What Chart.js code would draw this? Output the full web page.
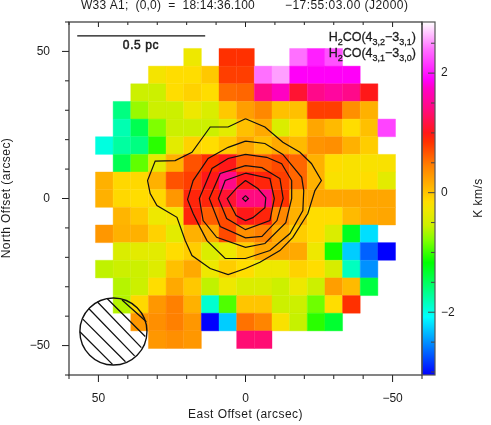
<!DOCTYPE html>
<html>
<head>
<meta charset="utf-8">
<title>W33 A1 H2CO</title>
<script src="https://cdn.jsdelivr.net/npm/chart.js@4"></script>
<style>
    html, body { margin: 0; padding: 0; background: #fff; }
    canvas { display: block; }
</style>
</head>
<body>
<canvas id="momentMap" width="491" height="425"></canvas>
<script>
// Map cell centres in arcsec (east is to the left)
var xOffsets = [48, 42, 36, 30, 24, 18, 12, 6, 0, -6, -12, -18, -24, -30, -36, -42, -48];
var yOffsets = [48, 42, 36, 30, 24, 18, 12, 6, 0, -6, -12, -18, -24, -30, -36, -42, -48];

// Integrated intensity (K km/s), one row per yOffsets entry, null = no data
var moment = [
    [null, null, null, null, null, -0.3, null, 0.85, 0.85, null, null, 2.4, 2.04, 2.26, null, null, null],
    [null, null, null, -0.25, -0.15, -0.15, -0.02, 0.78, 0.78, 2.4, 2.55, 1.88, 1.88, 1.88, 1.88, null, null],
    [null, null, -0.55, -0.55, -0.15, -0.08, -0.15, 0.55, 0.58, 1.45, 1.72, 1.1, 1.45, 1.55, 1.45, 1.0, null],
    [null, -1.63, -0.72, -0.55, -0.55, -0.3, -0.45, -0.02, 0.25, 0.4, 0.03, 0.03, 0.78, 0.78, 0.35, 0.13, null],
    [null, -1.8, -1.46, -0.8, -0.55, -0.55, -0.55, -0.38, 0.03, 0.18, -0.45, -0.15, 0.2, 0.07, -0.15, 0.03, 2.2],
    [-1.97, -1.74, -1.63, -1.05, -0.38, -0.08, -0.15, -0.02, 0.2, 0.03, 0.18, 0.07, 0.32, 0.35, 0.13, -0.05, null],
    [null, -1.46, -0.89, -0.38, 0.13, 0.68, 0.85, 1.0, 0.62, 0.62, 0.72, 0.58, 0.13, -0.15, -0.2, -0.2, -0.2],
    [0.13, -0.12, -0.12, 0.13, 0.68, 0.78, 1.0, 1.45, 1.0, 0.92, 0.78, 0.58, 0.13, -0.2, -0.2, -0.15, -0.38],
    [0.13, -0.12, -0.15, -0.12, 0.3, 0.92, 0.92, 1.1, 1.4, 1.4, 0.85, 0.18, 0.2, 0.2, 0.2, 0.2, 0.2],
    [null, 0.1, -0.02, -0.3, -0.25, 0.92, 0.62, 0.72, 1.0, 0.92, 0.4, 0.13, -0.15, -0.15, 0.07, 0.18, 0.2],
    [0.3, 0.13, 0.13, -0.08, -0.38, 0.13, 0.18, 0.72, 0.35, 0.45, 0.18, -0.05, -0.15, -0.45, -1.28, -2.2, null],
    [null, -0.45, -0.38, -0.38, -0.15, -0.05, -0.45, -0.3, -0.05, 0.2, 0.2, 0.18, -0.3, -1.12, -2.27, -2.68, -3.05],
    [-0.59, -0.55, -0.55, -0.42, 0.03, 0.18, -0.3, -0.05, -0.15, -0.3, -0.3, -0.08, -0.15, -0.47, -1.85, -2.5, null],
    [null, -0.62, -0.55, -0.15, 0.18, -0.02, -0.59, -0.3, -0.45, -0.45, -0.55, -0.3, -0.55, 0.25, 0.07, -1.4, null],
    [null, -0.62, -0.12, 0.3, 0.45, 0.13, -1.91, -0.94, 0, 0, -0.55, -0.55, -0.85, -0.15, 0.85, null, null],
    [null, null, 0.3, 0.35, 0.45, 0.3, -3.05, -2.27, 0.52, 0.42, -0.2, -0.57, -1.05, -1.34, null, null, null],
    [null, null, null, 0.3, 0.35, 0.3, null, null, 1.35, 1.35, null, null, null, null, null, null, null]
];

// Colour table of the map, [K km/s, colour]
var colorStops = [
    [-3.05, [0, 0, 255]], [-2.08, [0, 255, 255]], [-1.17, [0, 255, 0]], [-0.8, [127, 255, 0]],
    [-0.55, [204, 240, 0]], [-0.3, [238, 232, 0]], [-0.15, [255, 221, 0]], [0.03, [255, 192, 0]],
    [0.45, [255, 128, 0]], [0.85, [255, 48, 0]], [1.0, [255, 24, 24]], [1.4, [255, 10, 128]],
    [1.75, [255, 0, 200]], [1.9, [255, 0, 255]], [2.4, [255, 112, 255]], [2.855, [255, 255, 255]]
];

// Contours, outermost first, [east offset, north offset]
var contour1 = [[0, 27.1], [-6.6, 24.3], [-12.7, 19.1], [-18.5, 15.7], [-22.4, 11.9], [-25.8, 6.1], [-23.6, 2.7], [-21.2, -5.1], [-16.1, -13.2], [-11.7, -17.7], [-4.9, -21.7], [0, -23.8], [5.9, -25.9], [12, -23.8], [18.2, -19.4], [20.5, -14.3], [23.3, -6.4], [30.1, -2.4], [32.4, 1.7], [33.3, 6.1], [30.7, 12.7], [23.9, 12.9], [18.2, 15.7], [12, 24.3], [5.9, 24.3]];
var contour2 = [[0, 19.5], [-6.6, 18.7], [-12.7, 15], [-19.1, 7.2], [-19.8, 2.7], [-19.5, -4.1], [-15.1, -11.9], [-8.3, -17.7], [0, -20.4], [6.9, -20.4], [13.1, -14.3], [15.4, -9.9], [17.8, -5.1], [19.7, -0.3], [17.8, 6.1], [12.7, 13.6], [5.9, 17.4]];
var contour3 = [[0, 15], [-7.2, 14], [-12.3, 11.8], [-15.7, 6.1], [-15.7, 0], [-13.7, -8.2], [-6.6, -15.3], [0, -16.6], [9.8, -13.2], [14.4, -7.5], [15.7, 0], [11.4, 10.2], [5.9, 13.6]];
var contour4 = [[0, 11.2], [-5.6, 10.5], [-11.7, 6.8], [-12.8, 0], [-10.7, -7.5], [-5.6, -12.9], [0, -13.4], [8.6, -9.5], [12.3, 0], [8.6, 8.5]];
var contour5 = [[0, 8.6], [-8.3, 6.8], [-9.8, 0], [-8.3, -7.5], [0, -10.6], [6.4, -6.8], [9.2, 0], [6.9, 6.1]];
var contour6 = [[0, 6.1], [-4.2, 3.4], [-6.9, 0.3], [-6.6, -3.1], [-2.5, -6.5], [0, -7.5], [3.2, -5.8], [6.2, 0], [2.9, 3.7]];
var contour7 = [[0, 1], [-1, 0], [0, -1], [1, 0]];
var contours = [contour1, contour2, contour3, contour4, contour5, contour6, contour7];

// Beam and its hatching, scale bar
var beamCentre = [44.9, -45.2];
var beamRadius = 11.4;
var beamHatch = [
    [[41.97, -34.5], [33.7, -41.9]],
    [[47.05, -34.0], [34.07, -46.9]],
    [[50.4, -35.1], [35.4, -50.7]],
    [[53.3, -37.4], [37.7, -53.5]],
    [[55.3, -41.0], [40.8, -55.5]],
    [[56.3, -45.3], [45.2, -56.4]]
];
var scaleBar = [[57.2, 55.3], [13.7, 55.3]];

var majorOffsets = [50, 0, -50];
var majorBarTicks = [2, 0, -2];
var barMin = -3.05;
var barMax = 2.855;
var inkColor = '#1c1c1c';
var textFont = '"Liberation Sans", Arial, sans-serif';

function valueColor(value) {
    var i = 0;
    while (i < colorStops.length - 2 && value > colorStops[i + 1][0]) i++;
    var low = colorStops[i], high = colorStops[i + 1];
    var t = Math.max(0, Math.min(1, (value - low[0]) / (high[0] - low[0])));
    var rgb = low[1].map((c, k) => Math.round(c + (high[1][k] - c) * t));
    return 'rgb(' + rgb.join(',') + ')';
}

function toPoints(list) {
    return list.map(p => ({ x: p[0], y: p[1] }));
}

function buildCells() {
    var cells = [];
    moment.forEach((row, j) => {
        row.forEach((value, i) => {
            if (value !== null) cells.push({ x: xOffsets[i], y: yOffsets[j], v: value });
        });
    });
    return cells;
}

function buildHatch() {
    var points = [];
    beamHatch.forEach(line => {
        points = points.concat(toPoints(line));
        points.push({ x: NaN, y: NaN });
    });
    return points;
}

function drawText(ctx, text, x, y, opts) {
    opts = opts || {};
    ctx.save();
    ctx.translate(x, y);
    if (opts.rotate) ctx.rotate(opts.rotate);
    ctx.font = opts.font || '12px ' + textFont;
    ctx.letterSpacing = opts.spacing || '0px';
    ctx.textAlign = opts.align || 'left';
    ctx.textBaseline = opts.baseline || 'middle';
    ctx.fillStyle = inkColor;
    ctx.fillText(text, 0, 0);
    if (opts.stroke) {
        ctx.strokeStyle = inkColor;
        ctx.lineWidth = opts.stroke;
        ctx.strokeText(text, 0, 0);
    }
    ctx.restore();
}

// H2CO transition label, pieces are [text, isSubscript], right edge at x
function drawLine(ctx, pieces, x, y) {
    var total = 0;
    pieces.forEach(p => {
        ctx.font = (p[1] ? '9px ' : '12.5px ') + textFont;
        total += ctx.measureText(p[0]).width;
    });
    var pos = x - total;
    pieces.forEach(p => {
        var font = (p[1] ? '9px ' : '12.5px ') + textFont;
        ctx.font = font;
        var w = ctx.measureText(p[0]).width;
        drawText(ctx, p[0], pos, p[1] ? y + 3.5 : y, { font: font, baseline: 'alphabetic', stroke: 0.3 });
        pos += w;
    });
}

function tickLine(ctx, x1, y1, x2, y2) {
    ctx.beginPath();
    ctx.moveTo(x1, y1);
    ctx.lineTo(x2, y2);
    ctx.stroke();
}

var frameAndLabels = {
    id: 'frameAndLabels',
    afterDatasetsDraw(chart) {
        var ctx = chart.ctx;
        var area = chart.chartArea;
        var xs = chart.scales.x, ys = chart.scales.y, bar = chart.scales.bar;
        var barLeft = area.right, barRight = area.right + 13;

        // colour bar
        var top = bar.getPixelForValue(barMax), bottom = bar.getPixelForValue(barMin);
        var gradient = ctx.createLinearGradient(0, bottom, 0, top);
        colorStops.forEach(s => {
            gradient.addColorStop((s[0] - barMin) / (barMax - barMin), valueColor(s[0]));
        });
        ctx.fillStyle = gradient;
        ctx.fillRect(barLeft, top, barRight - barLeft, bottom - top);

        ctx.save();
        ctx.strokeStyle = inkColor;
        ctx.lineWidth = 1;

        xs.ticks.forEach(t => {
            var px = xs.getPixelForValue(t.value);
            var major = majorOffsets.includes(t.value) || t.value === 0;
            tickLine(ctx, px, area.bottom, px, area.bottom + (major ? 7 : 4));
            tickLine(ctx, px, area.top, px, area.top + (major ? 5 : 3));
        });
        ys.ticks.forEach(t => {
            var py = ys.getPixelForValue(t.value);
            var major = majorOffsets.includes(t.value) || t.value === 0;
            tickLine(ctx, area.left, py, area.left - (major ? 7 : 4), py);
        });
        ctx.strokeStyle = '#444';
        bar.ticks.forEach(t => {
            var py = bar.getPixelForValue(t.value);
            var major = majorBarTicks.includes(t.value) || t.value === 0;
            tickLine(ctx, barRight, py, barRight - (major ? 7 : 4), py);
        });

        // frames
        ctx.lineWidth = 1.2;
        ctx.strokeStyle = '#333';
        ctx.strokeRect(area.left, area.top, area.right - area.left, area.bottom - area.top);
        ctx.strokeStyle = '#555';
        ctx.strokeRect(barLeft, top, barRight - barLeft, bottom - top);
        ctx.restore();

        // text
        drawText(ctx, 'W33 A1;  (0,0)  =  18:14:36.100', 81, 5.5, { spacing: '0.2px' });
        drawText(ctx, '\u221217:55:03.00 (J2000)', 285, 5.5, { spacing: '0.45px' });
        drawText(ctx, 'East Offset (arcsec)', 245.5, 415, { align: 'center', spacing: '0.45px' });
        drawText(ctx, 'North Offset (arcsec)', 7, 198, { align: 'center', spacing: '0.45px', rotate: -Math.PI / 2 });
        drawText(ctx, 'K km/s', 479, 198, { align: 'center', spacing: '0.45px', rotate: -Math.PI / 2 });
        drawText(ctx, '0.5 pc', 141, 46, { align: 'center', stroke: 0.5, spacing: '0.6px' });
        drawLine(ctx, [['H', 0], ['2', 1], ['CO(4', 0], ['3,2', 1], ['\u22123', 0], ['3,1', 1], [')', 0]], 416, 41);
        drawLine(ctx, [['H', 0], ['2', 1], ['CO(4', 0], ['3,1', 1], ['\u22123', 0], ['3,0', 1], [')', 0]], 416, 57);
    }
};

function offsetTicks(labelPadding) {
    return {
        stepSize: 10,
        autoSkip: false,
        maxRotation: 0,
        includeBounds: false,
        color: inkColor,
        font: { family: textFont, size: 12 },
        padding: labelPadding,
        callback: value => majorOffsets.includes(value) ? String(value).replace('-', '\u2212') : ''
    };
}

// Fixed axis sizes so the plot frame lands where the reference has it
function fixAxisSize(scale, width, height) {
    if (width) scale.width = width;
    if (height) scale.height = height;
    scale.paddingTop = 0;
    scale.paddingBottom = 0;
    scale.paddingLeft = 0;
    scale.paddingRight = 0;
}

function renderMap() {
    var ctx = document.getElementById('momentMap').getContext('2d');

    var datasets = contours.map(c => ({
        data: toPoints(c.concat([c[0]])),
        showLine: true,
        borderColor: '#111',
        borderWidth: 1.2,
        pointRadius: 0,
        tension: 0,
        order: 1
    }));

    // beam outline and hatching
    datasets.push({
        data: toPoints([beamCentre]),
        pointStyle: 'circle',
        pointBackgroundColor: 'rgba(0,0,0,0)',
        pointBorderColor: '#111',
        pointBorderWidth: 1.4,
        pointRadius: c => Math.abs(c.chart.scales.x.getPixelForValue(beamRadius) - c.chart.scales.x.getPixelForValue(0)),
        order: 1
    });
    datasets.push({
        data: buildHatch(),
        showLine: true,
        spanGaps: false,
        borderColor: '#111',
        borderWidth: 1.3,
        pointRadius: 0,
        order: 1
    });
    datasets.push({
        data: toPoints(scaleBar),
        showLine: true,
        borderColor: '#111',
        borderWidth: 1.4,
        pointRadius: 0,
        order: 1
    });

    // map cells, a 'rect' point of radius r has half width r / sqrt(2)
    datasets.push({
        data: buildCells(),
        pointStyle: 'rect',
        pointRadius: c => Math.abs(c.chart.scales.x.getPixelForValue(3) - c.chart.scales.x.getPixelForValue(0)) * Math.SQRT2,
        pointBackgroundColor: c => valueColor(c.raw.v),
        pointBorderColor: c => valueColor(c.raw.v),
        pointBorderWidth: 0.4,
        order: 2
    });

    new Chart(ctx, {
        type: 'scatter',
        data: { datasets: datasets },
        plugins: [frameAndLabels],
        options: {
            responsive: false,
            animation: false,
            events: [],
            layout: { padding: { top: 22 } },
            plugins: { legend: { display: false }, tooltip: { enabled: false } },
            scales: {
                x: {
                    type: 'linear',
                    position: 'bottom',
                    reverse: true,
                    min: -60,
                    max: 60,
                    grid: { display: false, drawTicks: false },
                    border: { display: false },
                    ticks: offsetTicks(16),
                    afterFit: scale => fixAxisSize(scale, 0, 50)
                },
                y: {
                    type: 'linear',
                    position: 'left',
                    min: -60,
                    max: 60,
                    grid: { display: false, drawTicks: false },
                    border: { display: false },
                    ticks: offsetTicks(19),
                    afterFit: scale => fixAxisSize(scale, 69, 0)
                },
                bar: {
                    type: 'linear',
                    axis: 'y',
                    position: 'right',
                    min: barMin,
                    max: barMax,
                    grid: { display: false, drawTicks: false },
                    border: { display: false },
                    ticks: {
                        stepSize: 0.5,
                        includeBounds: false,
                        autoSkip: false,
                        color: inkColor,
                        font: { family: textFont, size: 12 },
                        padding: 19,
                        callback: value => majorBarTicks.includes(value) ? String(value).replace('-', '\u2212') : ''
                    },
                    afterFit: scale => fixAxisSize(scale, 69, 0)
                }
            }
        }
    });
}

document.addEventListener('DOMContentLoaded', renderMap);
</script>
</body>
</html>
